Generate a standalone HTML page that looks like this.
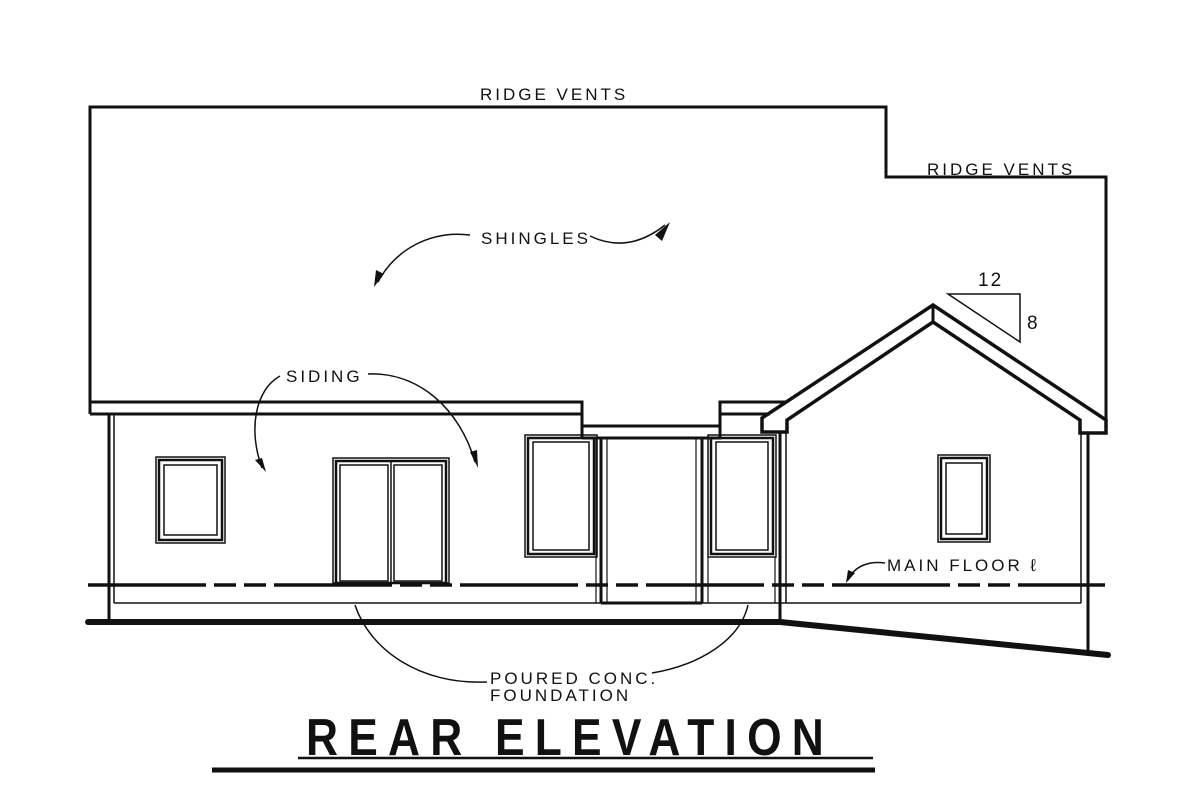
<!DOCTYPE html>
<html><head><meta charset="utf-8"><style>
html,body{margin:0;padding:0;background:#fff}
svg{display:block}
text{font-family:"Liberation Sans",sans-serif;fill:#111}
</style></head><body>
<svg width="1200" height="807" viewBox="0 0 1200 807" xmlns="http://www.w3.org/2000/svg">
<g fill="none" stroke="#111" stroke-linejoin="miter">
<!-- main roof outline -->
<path d="M90,414 L90,107 L886,107 L886,177 L1106,177 L1106,433" stroke-width="3"/>
<!-- left eave band -->
<path d="M90,402 L582,402 L582,437 M90,414 L582,414" stroke-width="3"/>
<!-- porch beam -->
<path d="M582,426 L720,426 M582,438 L720,438 L720,402 L785,402 M720,414 L770,414" stroke-width="3"/>
<!-- gable -->
<path d="M762,432 L762,418 L933,305 L1106,420 L1106,433 L1080,433 L1080,420 L933,322 L787,420 L787,432 Z" stroke-width="3.5"/>
<line x1="933" y1="305" x2="933" y2="322" stroke-width="3"/>
<!-- left wall -->
<line x1="109" y1="414" x2="109" y2="622" stroke-width="3"/>
<line x1="114" y1="414" x2="114" y2="603" stroke-width="1.5"/>
<!-- right wall -->
<line x1="1088" y1="433" x2="1088" y2="655" stroke-width="3"/>
<line x1="1081" y1="433" x2="1081" y2="603" stroke-width="1.5"/>
<!-- mid walls near gable -->
<line x1="780" y1="432" x2="780" y2="622" stroke-width="3"/>
<line x1="786" y1="432" x2="786" y2="603" stroke-width="1.5"/>
<line x1="775" y1="557" x2="775" y2="603" stroke-width="1.2"/>
<!-- foundation line -->
<line x1="114" y1="603" x2="1081" y2="603" stroke-width="1.5"/>
<!-- ground -->
<line x1="88" y1="622" x2="780" y2="622" stroke-width="6" stroke-linecap="round"/>
<path d="M780,622 L1108,655" stroke-width="6" stroke-linecap="round"/>
<!-- dash line -->
<line x1="88" y1="585" x2="1105" y2="585" stroke-width="3.5" stroke-dasharray="118,8,22,8,22,8" />
<!-- left window -->
<rect x="156" y="457" width="69" height="86" stroke-width="1.5"/>
<rect x="159" y="460" width="63" height="80" stroke-width="2.5"/>
<rect x="164" y="465" width="53" height="70" stroke-width="1.5"/>
<!-- double door -->
<rect x="333" y="458" width="116" height="125" stroke-width="1.5"/>
<rect x="336" y="461" width="110" height="122" stroke-width="2.5"/>
<rect x="340" y="465" width="48" height="116" stroke-width="1.5"/>
<rect x="394" y="465" width="48" height="116" stroke-width="1.5"/>
<line x1="391" y1="461" x2="391" y2="583" stroke-width="1.5"/>
<!-- window left of porch -->
<rect x="525" y="435" width="72" height="122" stroke-width="1.5"/>
<rect x="528" y="438" width="66" height="116" stroke-width="2.5"/>
<rect x="533" y="442" width="56" height="108" stroke-width="1.5"/>
<!-- window right of porch -->
<rect x="708" y="435" width="68" height="122" stroke-width="1.5"/>
<rect x="711" y="438" width="62" height="116" stroke-width="2.5"/>
<rect x="716" y="442" width="52" height="108" stroke-width="1.5"/>
<!-- porch posts / door -->
<line x1="601" y1="438" x2="601" y2="603" stroke-width="3"/>
<line x1="596" y1="438" x2="596" y2="603" stroke-width="1.2"/>
<line x1="607" y1="438" x2="607" y2="603" stroke-width="1.2"/>
<line x1="702" y1="438" x2="702" y2="603" stroke-width="3"/>
<line x1="696" y1="438" x2="696" y2="603" stroke-width="1.2"/>
<line x1="708" y1="557" x2="708" y2="603" stroke-width="1.2"/>
<line x1="601" y1="603" x2="702" y2="603" stroke-width="3"/>
<!-- right window -->
<rect x="938" y="455" width="52" height="87" stroke-width="1.5"/>
<rect x="941" y="458" width="46" height="81" stroke-width="2.5"/>
<rect x="946" y="463" width="36" height="71" stroke-width="1.5"/>
<!-- pitch triangle -->
<path d="M948,294 L1020,294 L1020,342 Z" stroke-width="1.5"/>
<!-- leaders -->
<path d="M470,235 C430,230 395,250 378,282" stroke-width="1.5"/>
<path d="M590,236 C615,248 640,245 665,225" stroke-width="1.5"/>
<path d="M280,376 C255,390 248,430 262,468" stroke-width="1.5"/>
<path d="M368,374 C420,372 460,410 475,462" stroke-width="1.5"/>
<path d="M885,563 C870,561 855,565 848,580" stroke-width="1.5"/>
<path d="M487,682 C420,685 370,650 355,605" stroke-width="1.5"/>
<path d="M652,673 C700,665 740,640 748,605" stroke-width="1.5"/>
</g>
<!-- arrowheads -->
<g fill="#111">
<path d="M374,287 L376,270 L384,274 Z"/>
<path d="M670,222 L655,235 L662,241 Z"/>
<path d="M266,472 L255,460 L262,458 Z"/>
<path d="M478,468 L470,452 L477,450 Z"/>
<path d="M846,583 L848,570 L855,573 Z"/>
</g>
<!-- text -->
<g font-size="17" letter-spacing="3">
<text x="480" y="100">RIDGE VENTS</text>
<text x="927" y="175">RIDGE VENTS</text>
<text x="481" y="244">SHINGLES</text>
<text x="286" y="382">SIDING</text>
<text x="887" y="571">MAIN FLOOR ℓ</text>
<text x="490" y="684">POURED CONC.</text>
<text x="490" y="701">FOUNDATION</text>
</g>
<text x="978" y="286" font-size="19" letter-spacing="2">12</text>
<text x="1027" y="329" font-size="19">8</text>
<text x="306" y="755" font-size="52" font-weight="bold" letter-spacing="12" textLength="528" lengthAdjust="spacingAndGlyphs">REAR ELEVATION</text>
<line x1="298" y1="758" x2="873" y2="758" stroke="#111" stroke-width="2.5"/>
<line x1="212" y1="770" x2="875" y2="770" stroke="#111" stroke-width="5"/>
</svg>
</body></html>
